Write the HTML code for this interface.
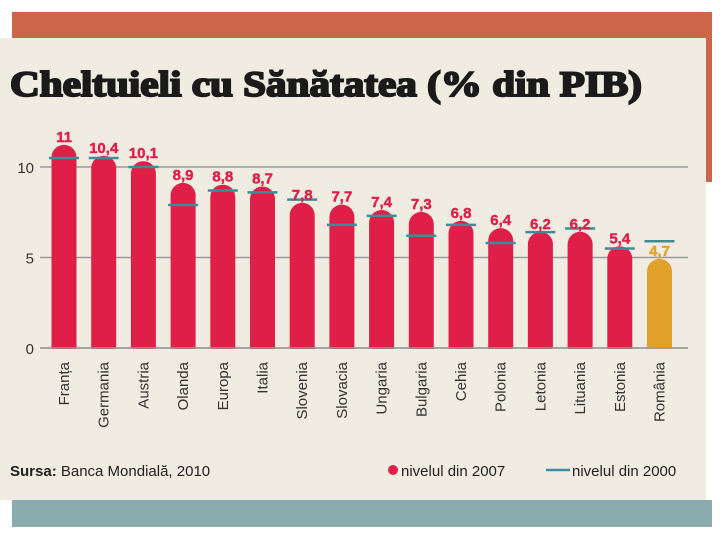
<!DOCTYPE html>
<html><head><meta charset="utf-8"><style>
body{margin:0;width:720px;height:540px;background:#fff;overflow:hidden;font-family:"Liberation Sans",sans-serif}
</style></head><body>
<svg width="720" height="540">
<rect x="12" y="12" width="700" height="170" fill="#cf6548"/>
<rect x="12" y="500" width="700" height="27" fill="#8aacae"/>
<rect x="0" y="38" width="706" height="462" fill="#f0ece2"/>
<text x="10" y="96" font-family="Liberation Serif" font-weight="bold" font-size="36" fill="#1a1a1a" stroke="#1a1a1a" stroke-width="2" textLength="632" lengthAdjust="spacingAndGlyphs">Cheltuieli cu Sănătatea (% din PIB)</text>
<g id="plot"></g>
<text x="10" y="476" font-size="15" fill="#222"><tspan font-weight="bold">Sursa:</tspan> Banca Mondială, 2010</text>
<circle cx="393" cy="470" r="5" fill="#e01f48"/>
<text x="401" y="476" font-size="15" fill="#222">nivelul din 2007</text>
<line x1="546" y1="470" x2="570" y2="470" stroke="#3d8d98" stroke-width="2.5"/>
<text x="572" y="476" font-size="15" fill="#222">nivelul din 2000</text>
</svg>
<script>
const categories=["Franța","Germania","Austria","Olanda","Europa","Italia","Slovenia","Slovacia","Ungaria","Bulgaria","Cehia","Polonia","Letonia","Lituania","Estonia","România"];
const values2007=[11,10.4,10.1,8.9,8.8,8.7,7.8,7.7,7.4,7.3,6.8,6.4,6.2,6.2,5.4,4.7];
const values2000=[10.5,10.5,10.0,7.9,8.7,8.6,8.2,6.8,7.3,6.2,6.8,5.8,6.4,6.6,5.5,5.9];
const yTicks=[0,5,10];
const NS="http://www.w3.org/2000/svg",g=document.getElementById('plot');
const y=v=>348-v*18.1, x=i=>64+i*39.7;
function mk(t,a){const e=document.createElementNS(NS,t);for(const k in a)e.setAttribute(k,a[k]);g.appendChild(e);return e;}
yTicks.forEach(t=>{
 let l=mk('line',{x1:40,x2:688,y1:y(t),y2:y(t),stroke:'#999','stroke-width':1.5});
 
 
 let tx=mk('text',{x:34,y:y(t)+6,'text-anchor':'end','font-size':15,fill:'#333'});tx.textContent=t;
 
 
});
categories.forEach((c,i)=>{
 const w=25,top=y(values2007[i])-4,col=i==15?'#e2a12a':'#e01f48';
 let b=mk('rect',{x:x(i)-w/2,y:top,width:w,height:348-top+12,rx:12.5,fill:col});
 
 
 let l=mk('line',{x1:x(i)-15,x2:x(i)+15,y1:y(values2000[i]),y2:y(values2000[i]),stroke:'#3d8d98','stroke-width':2.5});
 
 
 let v=mk('text',{x:x(i),y:top-3,'text-anchor':'middle','font-size':15,'font-weight':'bold',fill:col,stroke:col,'stroke-width':0.4});
 v.textContent=String(values2007[i]).replace('.',',');
 
 
 let t=mk('text',{x:0,y:0,'text-anchor':'end','font-size':15,fill:'#333',transform:`translate(${x(i)+5},362) rotate(-90)`});
 t.textContent=c;
 
 
});
let cv=mk('rect',{x:40,y:349,width:660,height:12,fill:'#f0ece2'});


let ax=mk('line',{x1:40,x2:688,y1:348,y2:348,stroke:'#999','stroke-width':1.5});


</script>
</body></html>
